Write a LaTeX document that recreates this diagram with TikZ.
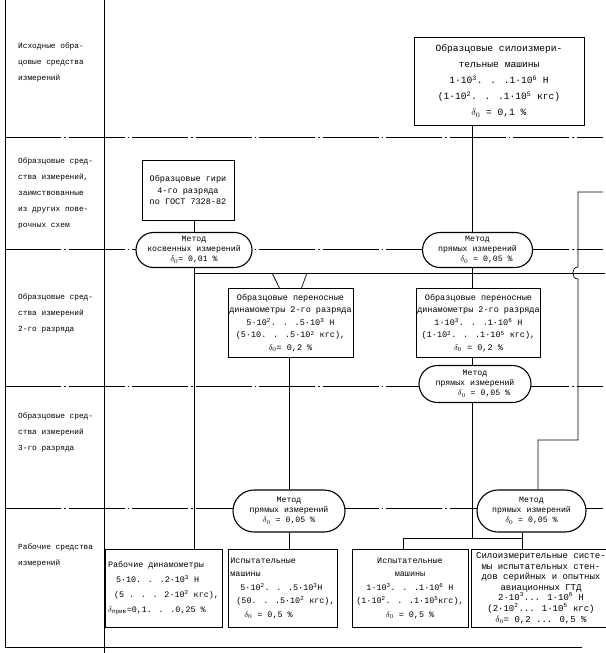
\documentclass[tikz,border=0pt]{standalone}
\usepackage{fontspec}
\setmainfont{Liberation Mono}
\usetikzlibrary{calc,shapes.misc}
\begin{document}
\begin{tikzpicture}[x=1pt,y=-1pt,
  box/.style={draw, line width=0.9pt, fill=white, align=center, inner sep=1pt,
    font=\fontsize{8.5}{13.5}\selectfont},
  stad/.style={draw, line width=1.1pt, fill=white, shape=rounded rectangle, align=center,
    inner sep=1pt, font=\fontsize{8.2}{10}\selectfont},
  sep/.style={line width=0.6pt, dash pattern=on 56pt off 3pt on 1.5pt off 3pt},
  conn/.style={line width=0.7pt},
  frame/.style={line width=0.9pt},
  lbl/.style={font=\fontsize{7.8}{16}\selectfont, align=left, anchor=west, inner sep=0pt}
]
\useasboundingbox (0,0) rectangle (605,653);
% frame
\draw[frame] (5,0) -- (5,647) -- (582,647);
\draw[frame] (104,0) -- (104,653);
% separators
\draw[sep] (5,137) -- (603,137);
\draw[sep] (5,249) -- (603,249);
\draw[sep] (5,386) -- (603,386);
\draw[sep] (5,508) -- (603,508);
% left labels
\node[lbl] (l1) at (18,62.5) {Исходные обра-\\цовые средства\\измерений};
\node[lbl] (l2) at (18,193) {Образцовые сред-\\ства измерений,\\заимствованные\\из других пове-\\рочных схем};
\node[lbl] (l3) at (18,313) {Образцовые сред-\\ства измерений\\2-го разряда};
\node[lbl] (l4) at (18,432) {Образцовые сред-\\ства измерений\\3-го разряда};
\node[lbl] (l5) at (18,555.5) {Рабочие средства\\измерений};
% nodes
\node[box, minimum width=170pt, minimum height=88pt, font=\fontsize{9.6}{16}\selectfont] (top) at (499,81)
  {Образцовые силоизмери-\\тельные машины\\1·10\textsuperscript{3}. . .1·10\textsuperscript{6} Н\\(1·10\textsuperscript{2}. . .1·10\textsuperscript{5} кгс)\\$\delta_0$ = 0,1 \%};
\node[box, minimum width=92pt, minimum height=60pt, font=\fontsize{8.5}{11.5}\selectfont] (giri) at (188,190)
  {Образцовые гири\\4-го разряда\\по ГОСТ 7328-82};
\node[stad, minimum width=118pt, minimum height=35pt] (mk) at (194,250)
  {Метод\\косвенных измерений\\$\delta_0$= 0,01 \%};
\node[stad, minimum width=112pt, minimum height=35pt] (m1) at (477.5,250)
  {Метод\\прямых измерений\\\hspace{18pt}$\delta_0$ = 0,05 \%};
\node[box, minimum width=125pt, minimum height=69pt, font=\fontsize{8.5}{12.5}\selectfont] (d2L) at (290.5,323)
  {Образцовые переносные\\динамометры 2-го разряда\\5·10\textsuperscript{2}. . .5·10\textsuperscript{3} Н\\(5·10. . .5·10\textsuperscript{2} кгс),\\$\delta_0$= 0,2 \%};
\node[box, minimum width=124pt, minimum height=69pt, font=\fontsize{8.5}{12.5}\selectfont] (d2R) at (478.5,323)
  {Образцовые переносные\\динамометры 2-го разряда\\1·10\textsuperscript{3}. . .1·10\textsuperscript{6} Н\\(1·10\textsuperscript{2}. . .1·10\textsuperscript{5} кгс),\\$\delta_0$ = 0,2 \%};
\node[stad, minimum width=114pt, minimum height=37pt] (m2) at (475,384)
  {Метод\\прямых измерений\\\hspace{18pt}$\delta_0$ = 0,05 \%};
\node[stad, minimum width=114pt, minimum height=42pt] (m3) at (289,511)
  {Метод\\прямых измерений\\$\delta_0$ = 0,05 \%};
\node[stad, minimum width=111pt, minimum height=42pt] (m4) at (531.5,511)
  {Метод\\прямых измерений\\$\delta_0$ = 0,05 \%};
\node[box, minimum width=117pt, minimum height=78pt, align=left, font=\fontsize{8.4}{15}\selectfont] (rd) at (163.5,588)
  {Рабочие динамометры\\\hspace{8pt}5·10. . .2·10\textsuperscript{3} Н\\\hspace{6pt}(5 . . . 2·10\textsuperscript{2} кгс),\\$\delta$\textsubscript{прив}=0,1. . .0,25 \%};
\node[box, minimum width=109pt, minimum height=78pt, align=left, font=\fontsize{8.4}{13.5}\selectfont] (im1) at (282.5,588)
  {Испытательные\\машины\\\hspace{10pt}5·10\textsuperscript{2}. . .5·10\textsuperscript{3}Н\\\hspace{6pt}(50. . .5·10\textsuperscript{2} кгс),\\\hspace{14pt}$\delta_0$ = 0,5 \%};
\node[box, minimum width=116pt, minimum height=78pt, font=\fontsize{8.4}{13.5}\selectfont] (im2) at (410,588)
  {Испытательные\\машины\\1·10\textsuperscript{3}. . .1·10\textsuperscript{6} Н\\(1·10\textsuperscript{2}. . .1·10\textsuperscript{5}кгс),\\$\delta_0$ = 0,5 \%};
\node[box, minimum width=140pt, minimum height=78pt, font=\fontsize{9}{10.6}\selectfont] (sil) at (541,588)
  {Силоизмерительные систе-\\мы испытательных стен-\\дов серийных и опытных\\авиационных ГТД\\2·10\textsuperscript{3}... 1·10\textsuperscript{6} Н\\(2·10\textsuperscript{2}... 1·10\textsuperscript{5} кгс)\\$\delta_0$= 0,2 ... 0,5 \%};
% connectors
\coordinate (hL) at (194,273);
\coordinate (hR) at (605,273);
\coordinate (br) at (538,440);
\coordinate (j1) at (403,538);
\coordinate (j2) at (522,538);
\coordinate (jm) at (472,538);
\draw[conn] (top.south -| 472,0) -- (m1.north -| 472,0);
\draw[conn] (m1.south -| 472,0) -- (d2R.north -| 472,0);
\draw[conn] (d2R.south -| 472,0) -- (m2.north -| 472,0);
\draw[conn] (m2.south -| 472,0) -- (jm);
\draw[conn] (giri.south -| mk.north) -- (mk.north);
\draw[conn] (mk.south) -- (mk.south |- rd.north);
\draw[conn] (hL) -- (hR);
\draw[conn] (272,273) -- ($(d2L.north)+(-11,0)$);
\draw[conn] (307,273) -- ($(d2L.north)+(11,0)$);
\draw[conn] (d2L.south -| m3.north) -- (m3.north);
\draw[conn] (m3.south) -- (m3.south |- im1.north);
\draw[conn] (j1 |- im2.north) -- (j1) -- (j2);
\draw[conn] (j2 |- m4.south) -- (j2 |- sil.north);
\draw[conn] (603,192) -- (578,192) -- (578,267)
  .. controls (571,267) and (571,279) .. (578,279) -- (578,440) -- (br) -- (br |- m4.north);
\end{tikzpicture}
\end{document}
